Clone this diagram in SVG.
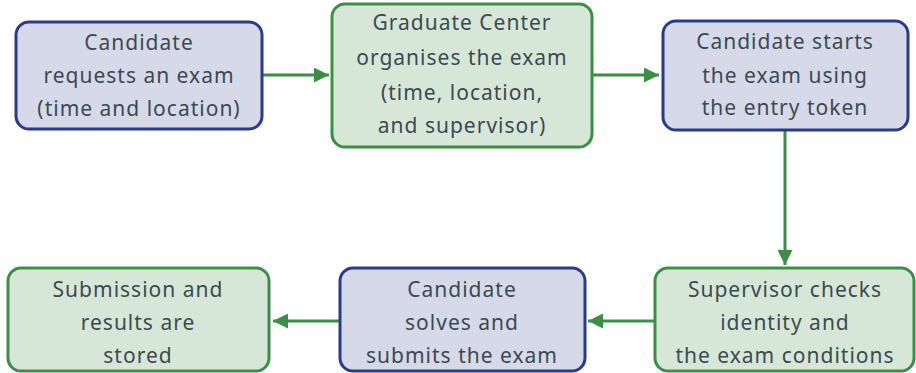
<svg xmlns="http://www.w3.org/2000/svg" width="916" height="373" viewBox="0 0 916 373">
<defs>
<marker id="ah" viewBox="0 0 10 10" refX="10" refY="5" markerWidth="5" markerHeight="5" markerUnits="strokeWidth" orient="auto">
<path d="M0,0 L10,5 L0,10 z" fill="#3a8f45"/>
</marker>
<style>
.blue rect{fill:#d5d9e8;stroke:#2b3a8c;stroke-width:3}
.green rect{fill:#d6e7d8;stroke:#3a8f45;stroke-width:3}
text{font-family:"Noto Sans","Open Sans",sans-serif;font-size:21px;letter-spacing:1px;fill:#3c4a52;text-anchor:middle}
.conn line{stroke:#3a8f45;stroke-width:3;fill:none}
</style>
</defs>
<rect width="916" height="373" fill="#ffffff"/>
<g class="conn" id="connectors">
<line x1="262" y1="75" x2="329" y2="75" marker-end="url(#ah)"/>
<line x1="592" y1="75" x2="659" y2="75" marker-end="url(#ah)"/>
<line x1="785" y1="130" x2="785" y2="265" marker-end="url(#ah)"/>
<line x1="655" y1="321" x2="588" y2="321" marker-end="url(#ah)"/>
<line x1="340" y1="321" x2="273" y2="321" marker-end="url(#ah)"/>
</g>
<g id="n1" class="blue">
<rect x="16" y="22" width="246" height="107" rx="13"/>
<text x="139" y="50">Candidate</text>
<text x="139" y="83">requests an exam</text>
<text x="139" y="116">(time and location)</text>
</g>
<g id="n2" class="green">
<rect x="332" y="4" width="260" height="143" rx="13"/>
<text x="462" y="30">Graduate Center</text>
<text x="462" y="65">organises the exam</text>
<text x="462" y="100">(time, location,</text>
<text x="462" y="133">and supervisor)</text>
</g>
<g id="n3" class="blue">
<rect x="663" y="21" width="245" height="109" rx="13"/>
<text x="785" y="49">Candidate starts</text>
<text x="785" y="83">the exam using</text>
<text x="785" y="115">the entry token</text>
</g>
<g id="n4" class="green">
<rect x="655" y="268" width="259" height="103" rx="13"/>
<text x="785" y="297">Supervisor checks</text>
<text x="785" y="330">identity and</text>
<text x="785" y="363">the exam conditions</text>
</g>
<g id="n5" class="blue">
<rect x="340" y="268" width="245" height="103" rx="13"/>
<text x="462" y="297">Candidate</text>
<text x="462" y="330">solves and</text>
<text x="462" y="363">submits the exam</text>
</g>
<g id="n6" class="green">
<rect x="8" y="268" width="261" height="103" rx="13"/>
<text x="138" y="297">Submission and</text>
<text x="138" y="330">results are</text>
<text x="138" y="363">stored</text>
</g>
</svg>
